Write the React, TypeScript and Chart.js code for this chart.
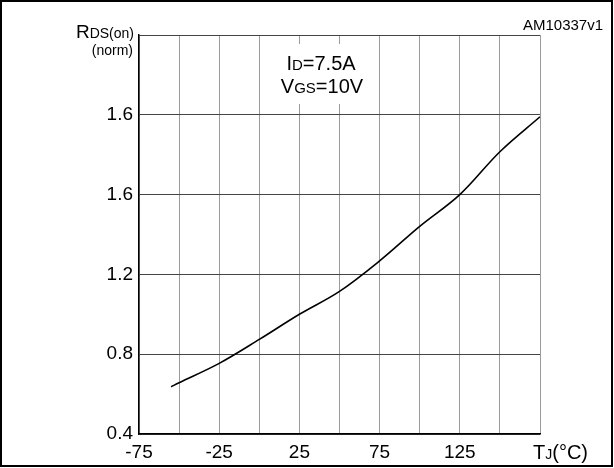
import React, { useEffect, useRef } from "react";
import { Chart, registerables } from "chart.js";

Chart.register(...registerables);

// Junction temperature (°C) and normalized RDS(on)
const temperatures = [-55, -50, -25, 0, 25, 50, 75, 100, 125, 150, 175];
const rdsOnNorm = [0.637, 0.657, 0.754, 0.874, 1.0, 1.115, 1.268, 1.441, 1.6, 1.815, 1.99];

const xTickLabels = ["-75", "", "-25", "", "25", "", "75", "", "125", "", ""];
const yTickLabels = ["0.4", "0.8", "1.2", "1.6", "1.6", ""];

const FONT = "'Liberation Sans', Arial, Helvetica, sans-serif";

type Part = [string, number];

function drawRun(ctx: CanvasRenderingContext2D, parts: Part[], x: number, y: number, align: "left" | "right" | "center") {
  let total = 0;
  const widths = parts.map(([t, s]) => {
    ctx.font = `${s}px ${FONT}`;
    const w = ctx.measureText(t).width;
    total += w;
    return w;
  });
  let cx = align === "left" ? x : align === "right" ? x - total : x - total / 2;
  ctx.textAlign = "left";
  ctx.textBaseline = "alphabetic";
  parts.forEach(([t, s], i) => {
    ctx.font = `${s}px ${FONT}`;
    ctx.fillText(t, cx, y);
    cx += widths[i];
  });
}

const annotations = {
  id: "annotations",
  beforeDatasetsDraw(chart: any) {
    const ctx = chart.ctx as CanvasRenderingContext2D;
    const { left, top } = chart.chartArea;
    ctx.save();
    ctx.fillStyle = "#fff";
    ctx.fillRect(left + 123, top + 9, 115, 60);
    ctx.fillStyle = "#000";
    drawRun(ctx, [["I", 20], ["D", 15], ["=7.5A", 20]], left + 182, top + 35, "center");
    drawRun(ctx, [["V", 20], ["GS", 15], ["=10V", 20]], left + 183, top + 58, "center");
    ctx.restore();
  },
  afterDraw(chart: any) {
    const ctx = chart.ctx as CanvasRenderingContext2D;
    const { left, top, right, bottom } = chart.chartArea;
    const W = chart.width;
    const H = chart.height;
    ctx.save();
    ctx.fillStyle = "#000";
    drawRun(ctx, [["R", 19], ["DS(on)", 14]], left - 5, top + 3, "right");
    drawRun(ctx, [["(norm)", 14]], left - 6, top + 20, "right");
    drawRun(ctx, [["AM10337v1", 15]], W - 11, 30, "right");
    drawRun(ctx, [["T", 20], ["J", 14], ["(°C)", 20]], right - 7, bottom + 25, "left");
    // outer frame
    ctx.strokeStyle = "#000";
    ctx.lineWidth = 2;
    ctx.strokeRect(1, 1, W - 3, H - 3);
    ctx.restore();
  },
};

export default function App() {
  const ref = useRef<HTMLCanvasElement | null>(null);

  useEffect(() => {
    document.body.style.margin = "0";
    const canvas = ref.current;
    if (!canvas) return;
    const chart = new Chart(canvas, {
      type: "line",
      data: {
        datasets: [
          {
            data: temperatures.map((t, i) => ({ x: t, y: rdsOnNorm[i] })),
            borderColor: "#000",
            borderWidth: 1.6,
            pointRadius: 0,
            fill: false,
            tension: 0.35,
          },
        ],
      },
      options: {
        animation: false,
        responsive: false,
        devicePixelRatio: 1,
        layout: { padding: { left: 0, right: 74, top: 35, bottom: 0 } },
        plugins: {
          legend: { display: false },
          tooltip: { enabled: false },
        },
        scales: {
          x: {
            type: "linear",
            min: -75,
            max: 175,
            afterFit: (s: any) => {
              s.height = 34;
            },
            ticks: {
              stepSize: 25,
              autoSkip: false,
              maxRotation: 0,
              padding: 7,
              color: "#000",
              font: { family: FONT, size: 19 },
              callback: (_v: any, i: number) => xTickLabels[i] ?? "",
            },
            grid: { color: "#9a9a9a", lineWidth: 1, drawTicks: false },
            border: { color: "#000", width: 1.5 },
          },
          y: {
            type: "linear",
            min: 0.4,
            max: 2.4,
            afterFit: (s: any) => {
              s.width = 139;
            },
            ticks: {
              stepSize: 0.4,
              autoSkip: false,
              padding: 6,
              color: "#000",
              font: { family: FONT, size: 19 },
              callback: (_v: any, i: number) => yTickLabels[i] ?? "",
            },
            grid: { color: "#444", lineWidth: 1, drawTicks: false },
            border: { color: "#000", width: 1.5 },
          },
        },
      },
      plugins: [annotations],
    });
    return () => chart.destroy();
  }, []);

  return (
    <div style={{ width: 614, height: 468 }}>
      <canvas ref={ref} width={614} height={468} style={{ display: "block" }} />
    </div>
  );
}
